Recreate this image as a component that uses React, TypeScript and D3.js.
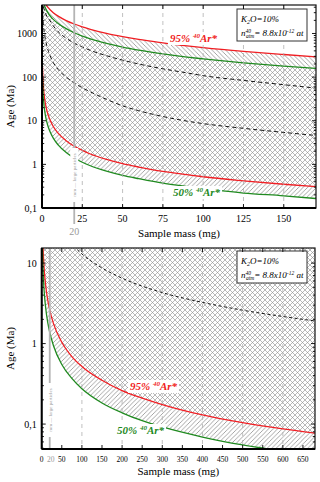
import React from "react";
import * as d3 from "d3";

// ---------- Top chart data (sample mass in mg, age in Ma) ----------
const topMass = [0.3, 0.5, 1, 1.5, 2, 3, 4, 5, 7, 10, 15, 20, 25, 30, 40, 50, 60, 75, 90, 100, 125, 150, 170];
const topRedUpper = [8300, 7400, 6200, 5500, 5000, 4320, 3850, 3500, 3000, 2500, 1980, 1650, 1420, 1250, 1010, 850, 730, 610, 520, 475, 390, 330, 292];
const topGreenUpper = [7160, 6240, 5070, 4390, 3920, 3290, 2870, 2550, 2110, 1700, 1290, 1040, 875, 755, 595, 490, 418, 342, 288, 262, 212, 178, 158];
const topDashed1 = [6000, 5000, 4000, 3400, 3000, 2500, 2200, 1950, 1500, 1100, 780, 600, 490, 410, 310, 245, 200, 155, 125, 108, 84, 67, 56];
const topDashed2 = [4000, 2600, 1400, 1000, 780, 520, 390, 310, 215, 150, 100, 74, 57, 46, 31, 22, 17, 12.5, 9.8, 8.6, 6.7, 5.4, 4.6];
const topRedLower = [173, 104, 52, 35, 26, 17.3, 13, 10.4, 7.4, 5.2, 3.5, 2.6, 2.1, 1.73, 1.3, 1.04, 0.87, 0.69, 0.58, 0.52, 0.42, 0.35, 0.31];
const topGreenLower = [93, 56, 28, 18.7, 14, 9.3, 7, 5.6, 4, 2.8, 1.87, 1.4, 1.12, 0.93, 0.7, 0.56, 0.47, 0.37, 0.31, 0.28, 0.22, 0.19, 0.165];
const topXTicks = [0, 25, 50, 75, 100, 125, 150];
const topYTicks = [0.1, 1, 10, 100, 1000];
const topYTickLabels = ["0,1", "1", "10", "100", "1000"];

// ---------- Bottom chart data ----------
const botMass = [1, 2, 3, 4, 5, 7, 10, 15, 20, 30, 50, 75, 100, 150, 200, 250, 300, 400, 500, 600, 680];
const botRed = [52, 26, 17.3, 13, 10.4, 7.4, 5.2, 3.5, 2.6, 1.73, 1.04, 0.69, 0.52, 0.35, 0.26, 0.21, 0.175, 0.13, 0.104, 0.087, 0.077];
const botGreen = [27.5, 13.8, 9.2, 6.9, 5.5, 3.9, 2.75, 1.83, 1.38, 0.92, 0.55, 0.37, 0.275, 0.183, 0.138, 0.11, 0.092, 0.069, 0.055, 0.046, 0.04];
const botDashedMass = [70, 85, 100, 150, 200, 300, 400, 500, 600, 680];
const botDashed = [18.6, 15.3, 13, 8.7, 6.5, 4.3, 3.25, 2.6, 2.17, 1.91];
const botXTicks = [0, 50, 100, 150, 200, 250, 300, 350, 400, 450, 500, 550, 600, 650];
const botGrid = [100, 200, 300, 400, 500, 600];
const botYTicks = [0.1, 1, 10];
const botYTickLabels = ["0,1", "1", "10"];

const particleMass = 20;

const RED = "#f01e23";
const GREEN = "#1f8a1f";
const SERIF = "Liberation Serif, Times New Roman, serif";

type Props = {
  id: string;
  left: number; right: number; top: number; bottom: number;
  xDomain: [number, number]; yDomain: [number, number];
  xTicks: number[]; xGrid: number[]; yTicks: number[]; yTickLabels: string[];
  xTickFont: number; xTickBaseline: number; titleBaseline: number;
  children: (x: d3.ScaleLinear<number, number>, y: d3.ScaleLogarithmic<number, number>) => React.ReactNode;
  overlay: (x: d3.ScaleLinear<number, number>, y: d3.ScaleLogarithmic<number, number>) => React.ReactNode;
};

function Panel(p: Props) {
  const x = d3.scaleLinear().domain(p.xDomain).range([p.left, p.right]);
  const y = d3.scaleLog().domain(p.yDomain).range([p.bottom, p.top]);
  const minor = y.ticks();
  const midY = (p.top + p.bottom) / 2;
  const cx = (p.left + p.right) / 2;
  return (
    <g>
      <defs>
        <clipPath id={p.id + "clip"}>
          <rect x={p.left} y={p.top} width={p.right - p.left} height={p.bottom - p.top} />
        </clipPath>
      </defs>
      <g clipPath={`url(#${p.id}clip)`}>
        {p.children(x, y)}
        {p.xGrid.map((t) => (
          <line key={"g" + t} x1={x(t)} x2={x(t)} y1={p.top} y2={p.bottom} stroke="#b0b0b0" strokeWidth={0.8} strokeDasharray="4,4" />
        ))}
      </g>
      {p.overlay(x, y)}
      {/* frame */}
      <rect x={p.left} y={p.top} width={p.right - p.left} height={p.bottom - p.top} fill="none" stroke="#111" strokeWidth={1.2} />
      <line x1={p.left} x2={p.left} y1={p.top} y2={p.bottom} stroke="#000" strokeWidth={2} />
      <line x1={p.left} x2={p.right} y1={p.bottom} y2={p.bottom} stroke="#000" strokeWidth={2} />
      {/* y ticks */}
      {minor.map((t, i) => {
        const major = p.yTicks.some((m) => Math.abs(m - t) / m < 1e-6);
        const len = major ? 4 : 2.2;
        return (
          <g key={"yt" + i}>
            <line x1={p.left} x2={p.left + len} y1={y(t)} y2={y(t)} stroke="#000" strokeWidth={0.9} />
            <line x1={p.right} x2={p.right - len} y1={y(t)} y2={y(t)} stroke="#000" strokeWidth={0.9} />
          </g>
        );
      })}
      {p.yTicks.map((t, i) => (
        <text key={"yl" + t} x={p.left - 5} y={y(t) + 3.5} textAnchor="end" fontSize={10} fontFamily={SERIF} fill="#000">
          {p.yTickLabels[i]}
        </text>
      ))}
      {/* x ticks */}
      {p.xTicks.map((t) => (
        <g key={"xt" + t}>
          <line x1={x(t)} x2={x(t)} y1={p.bottom} y2={p.bottom - 4} stroke="#000" strokeWidth={0.9} />
          <line x1={x(t)} x2={x(t)} y1={p.top} y2={p.top + 4} stroke="#000" strokeWidth={0.9} />
          <text x={x(t)} y={p.xTickBaseline} textAnchor="middle" fontSize={p.xTickFont} fontFamily={SERIF} fill="#000">
            {t}
          </text>
        </g>
      ))}
      <text x={cx} y={p.titleBaseline} textAnchor="middle" fontSize={11} fontFamily={SERIF} fill="#000">
        Sample mass (mg)
      </text>
      <text transform={`translate(14,${midY}) rotate(-90)`} textAnchor="middle" fontSize={11} fontFamily={SERIF} fill="#000">
        Age (Ma)
      </text>
    </g>
  );
}

function lineOf(x: any, y: any, mass: number[], vals: number[]) {
  return d3
    .line<number>()
    .x((_, i) => x(mass[i]))
    .y((d) => y(d))
    .curve(d3.curveMonotoneX)(vals) || "";
}

function bandOf(x: any, y: any, mass: number[], lo: number[], hi: number[]) {
  return d3
    .area<number>()
    .x((_, i) => x(mass[i]))
    .y0((_, i) => y(lo[i]))
    .y1((_, i) => y(hi[i]))
    .curve(d3.curveMonotoneX)(mass) || "";
}

function ArLabel({ x, y, pct, color }: { x: number; y: number; pct: string; color: string }) {
  return (
    <g>
      <rect x={x - 2} y={y - 10} width={51} height={13} fill="#fff" />
      <text x={x} y={y} fontSize={11} fontFamily={SERIF} fontStyle="italic" fontWeight="bold" fill={color}>
        {pct + " "}
        <tspan fontSize={7} dy={-4}>40</tspan>
        <tspan dy={4}>Ar*</tspan>
      </text>
    </g>
  );
}

function LegendBox({ x, y }: { x: number; y: number }) {
  return (
    <g>
      <rect x={x} y={y} width={70} height={32} fill="#fff" stroke="#333" strokeWidth={1} />
      <text x={x + 4} y={y + 13} fontSize={9} fontFamily={SERIF} fontStyle="italic" fill="#000">
        K<tspan fontSize={6} dy={2}>2</tspan>
        <tspan dy={-2}>O=10%</tspan>
      </text>
      <text x={x + 4} y={y + 27} fontSize={9} fontFamily={SERIF} fontStyle="italic" fill="#000">
        n<tspan fontSize={5.5} dy={-3.5}>40</tspan>
        <tspan fontSize={5.5} dy={5} dx={-5}>atm</tspan>
        <tspan dy={-1.5}>= 8.8x10</tspan>
        <tspan fontSize={5.5} dy={-3.5}>-12</tspan>
        <tspan dy={3.5}> at</tspan>
      </text>
    </g>
  );
}

function ParticleMarker({ x, top, bottom, textY, ext }: { x: number; top: number; bottom: number; textY: number; ext: number }) {
  return (
    <g>
      <line x1={x} x2={x} y1={top} y2={bottom + ext} stroke="#b4b4b4" strokeWidth={1.8} />
      <rect x={x - 4} y={textY - 27} width={8} height={54} fill="#fff" />
      <text
        transform={`translate(${x + 1.8},${textY}) rotate(-90)`}
        textAnchor="middle"
        fontSize={5}
        fontFamily={SERIF}
        fill="#9a9a9a"
      >
        mm — large particles
      </text>
    </g>
  );
}

export default function App() {
  return (
    <svg width={320} height={482} style={{ position: "absolute", left: 0, top: 0, background: "#fff" }}>
      <defs>
        <pattern id="cross" patternUnits="userSpaceOnUse" width={5} height={5}>
          <path d="M0,0 L5,5 M-1,4 L1,6 M4,-1 L6,1 M0,5 L5,0 M-1,1 L1,-1 M4,6 L6,4" stroke="#8c8c8c" strokeWidth={0.6} />
        </pattern>
        <pattern id="back" patternUnits="userSpaceOnUse" width={4.5} height={4.5}>
          <path d="M0,0 L4.5,4.5 M-1,3.5 L1,5.5 M3.5,-1 L5.5,1" stroke="#808080" strokeWidth={0.7} />
        </pattern>
        <pattern id="fwd" patternUnits="userSpaceOnUse" width={4.5} height={4.5}>
          <path d="M0,4.5 L4.5,0 M-1,1 L1,-1 M3.5,5.5 L5.5,3.5" stroke="#808080" strokeWidth={0.7} />
        </pattern>
      </defs>
      <rect x={0} y={0} width={320} height={482} fill="#fff" />

      {/* ---------- TOP ---------- */}
      <Panel
        id="top"
        left={42}
        right={316}
        top={5}
        bottom={208}
        xDomain={[0, 170]}
        yDomain={[0.1, 4500]}
        xTicks={topXTicks}
        xGrid={topXTicks.slice(1)}
        yTicks={topYTicks}
        yTickLabels={topYTickLabels}
        xTickFont={10}
        xTickBaseline={222}
        titleBaseline={237}
        children={(x, y) => (
          <g>
            <path d={bandOf(x, y, topMass, topGreenUpper, topRedUpper)} fill="url(#back)" />
            <path d={bandOf(x, y, topMass, topRedLower, topGreenUpper)} fill="url(#cross)" />
            <path d={bandOf(x, y, topMass, topGreenLower, topRedLower)} fill="url(#fwd)" />
            <path d={lineOf(x, y, topMass, topDashed1)} fill="none" stroke="#111" strokeWidth={1} strokeDasharray="4,3" />
            <path d={lineOf(x, y, topMass, topDashed2)} fill="none" stroke="#111" strokeWidth={1} strokeDasharray="4,3" />
            <path d={lineOf(x, y, topMass, topRedUpper)} fill="none" stroke={RED} strokeWidth={1.3} />
            <path d={lineOf(x, y, topMass, topGreenUpper)} fill="none" stroke={GREEN} strokeWidth={1.3} />
            <path d={lineOf(x, y, topMass, topRedLower)} fill="none" stroke={RED} strokeWidth={1.3} />
            <path d={lineOf(x, y, topMass, topGreenLower)} fill="none" stroke={GREEN} strokeWidth={1.3} />
          </g>
        )}
        overlay={(x, y) => (
          <g>
            <ParticleMarker x={x(particleMass)} top={5} bottom={208} textY={175} ext={16} />
            <text x={x(particleMass)} y={235} textAnchor="middle" fontSize={10} fontFamily={SERIF} fill="#9a9a9a">
              {particleMass}
            </text>
            <ArLabel x={170} y={42} pct="95%" color={RED} />
            <ArLabel x={173} y={196} pct="50%" color={GREEN} />
            <LegendBox x={237} y={9} />
          </g>
        )}
      />

      {/* ---------- BOTTOM ---------- */}
      <Panel
        id="bot"
        left={41.7}
        right={315}
        top={248}
        bottom={449}
        xDomain={[0, 680]}
        yDomain={[0.049, 15.4]}
        xTicks={botXTicks}
        xGrid={botGrid}
        yTicks={botYTicks}
        yTickLabels={botYTickLabels}
        xTickFont={7.5}
        xTickBaseline={462}
        titleBaseline={475}
        children={(x, y) => (
          <g>
            <path d={bandOf(x, y, botMass, botRed, botMass.map(() => 1000))} fill="url(#cross)" />
            <path d={bandOf(x, y, botMass, botGreen, botRed)} fill="url(#fwd)" />
            <path d={lineOf(x, y, botDashedMass, botDashed)} fill="none" stroke="#111" strokeWidth={1} strokeDasharray="3,2.5" />
            <path d={lineOf(x, y, botMass, botRed)} fill="none" stroke={RED} strokeWidth={1.3} />
            <path d={lineOf(x, y, botMass, botGreen)} fill="none" stroke={GREEN} strokeWidth={1.3} />
          </g>
        )}
        overlay={(x, y) => (
          <g>
            <ParticleMarker x={x(particleMass)} top={248} bottom={449} textY={410} ext={0} />
            <text x={x(particleMass) + 1} y={462} textAnchor="middle" fontSize={7.5} fontFamily={SERIF} fill="#9a9a9a">
              {particleMass}
            </text>
            <ArLabel x={130} y={390} pct="95%" color={RED} />
            <ArLabel x={117} y={434} pct="50%" color={GREEN} />
            <LegendBox x={237} y={251} />
          </g>
        )}
      />
    </svg>
  );
}
